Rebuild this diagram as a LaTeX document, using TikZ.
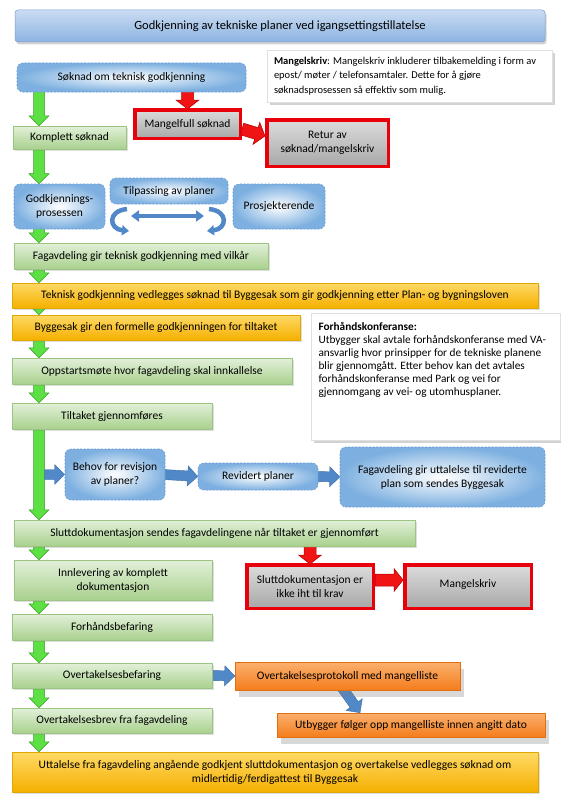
\documentclass[tikz,border=0pt]{standalone}
\usepackage{fontspec}
\setmainfont{Carlito}
\usetikzlibrary{calc,shadows,arrows.meta}
\definecolor{gTop}{HTML}{E2F0D9}
\definecolor{gBot}{HTML}{A9D18E}
\definecolor{gLine}{HTML}{9CC483}
\definecolor{gArr}{HTML}{5CE043}
\definecolor{gArrD}{HTML}{3C9E2C}
\definecolor{yTop}{HTML}{FFD966}
\definecolor{yBot}{HTML}{F5B000}
\definecolor{yLine}{HTML}{E0A800}
\definecolor{oTop}{HTML}{FBB06E}
\definecolor{oBot}{HTML}{F47D1C}
\definecolor{oLine}{HTML}{E07010}
\definecolor{rLine}{HTML}{E8000B}
\definecolor{rTop}{HTML}{DCDCDC}
\definecolor{rBot}{HTML}{A8A8A8}
\definecolor{rArr}{HTML}{F01414}
\definecolor{rArrD}{HTML}{B00000}
\definecolor{bOuter}{HTML}{7DB0E0}
\definecolor{bLine}{HTML}{6B9BD6}
\definecolor{bArr}{HTML}{5088C8}
\definecolor{bArrD}{HTML}{3A6AA5}
\definecolor{tTop}{HTML}{C9DCF2}
\definecolor{tBot}{HTML}{8DB3E2}
\definecolor{tLine}{HTML}{7A9FCF}
\pgfdeclarelayer{bg}
\pgfdeclarelayer{paper}
\pgfsetlayers{paper,bg,main}
\tikzset{
  blk/.style n args={3}{to path={
    let \p1=(\tikztostart), \p2=(\tikztotarget),
        \n1={atan2(\y2-\y1,\x2-\x1)}, \n2={veclen(\x2-\x1,\y2-\y1)} in
    ([shift={(\p1)},rotate=\n1]0,-#1) -- ([shift={(\p1)},rotate=\n1]\n2-#3,-#1)
    -- ([shift={(\p1)},rotate=\n1]\n2-#3,-#2) -- ([shift={(\p1)},rotate=\n1]\n2,0)
    -- ([shift={(\p1)},rotate=\n1]\n2-#3,#2) -- ([shift={(\p1)},rotate=\n1]\n2-#3,#1)
    -- ([shift={(\p1)},rotate=\n1]0,#1) -- cycle}},
  garrow/.style={blk={5.5}{10}{10}, fill=gArr, draw=gArrD, line width=0.5pt},
  rarrow/.style={blk={6}{11.5}{9}, fill=rArr, draw=rArrD, line width=0.5pt},
  barrow/.style={blk={5}{10}{10}, fill=bArr, draw=bArrD, line width=0.4pt},
  barc/.style={draw=bArr, line width=4.5pt, -{Triangle[width=10pt,length=7pt]}},
  base/.style={rectangle, align=center, inner sep=1pt, text=black,
    font=\fontsize{11.5}{14}\selectfont},
  gbox/.style={base, top color=gTop, bottom color=gBot, draw=gLine, line width=0.5pt,
    drop shadow={opacity=0.25, shadow xshift=1.5pt, shadow yshift=-2pt}},
  ybox/.style={base, top color=yTop, bottom color=yBot, draw=yLine, line width=0.5pt,
    drop shadow={opacity=0.25, shadow xshift=1.5pt, shadow yshift=-2pt}},
  obox/.style={base, top color=oTop, bottom color=oBot, draw=oLine, line width=0.5pt,
    drop shadow={opacity=0.3, shadow xshift=4pt, shadow yshift=-7pt}},
  rbox/.style={base, top color=rTop, bottom color=rBot, draw=rLine, line width=3.5pt,
    drop shadow={opacity=0.25, shadow xshift=1.5pt, shadow yshift=-2pt}},
  bbox/.style={base, rounded corners=6pt, inner color=white, outer color=bOuter,
    draw=bLine, line width=0.6pt, dash pattern=on 2pt off 1.5pt},
  tbox/.style={base, rounded corners=3pt, top color=tTop, bottom color=tBot, draw=tLine,
    line width=0.5pt, font=\fontsize{12.5}{14}\selectfont,
    drop shadow={opacity=0.35, shadow xshift=1.5pt, shadow yshift=-2.5pt}},
  notebox/.style={base, fill=white, draw=black!12, line width=0.4pt,
    drop shadow={opacity=0.35, shadow xshift=2.5pt, shadow yshift=-3pt}},
}
\begin{document}
\begin{tikzpicture}[x=1pt,y=1pt]
\begin{pgfonlayer}{paper}
\fill[white] (0,0) rectangle (561,-800);
\end{pgfonlayer}
\useasboundingbox (0,0) rectangle (561,-800);

\node[tbox, minimum width=530pt, minimum height=32pt] (title) at (280,-26)
  {Godkjenning av tekniske planer ved igangsettingstillatelse};

\node[notebox, minimum width=285pt, minimum height=52pt] (mnote) at (410,-76)
  {\parbox{272pt}{\raggedright\fontsize{10.5}{14.5}\selectfont
   \textbf{Mangelskriv}: Mangelskriv inkluderer tilbakemelding i form av\\
   epost/ møter / telefonsamtaler. Dette for å gjøre\\
   søknadsprosessen så effektiv som mulig.}};

\node[bbox, minimum width=229pt, minimum height=29pt] (soknad) at (131.5,-77.5)
  {Søknad om teknisk godkjenning};
\node[gbox, minimum width=113pt, minimum height=23pt] (komplett) at (69.5,-137.5)
  {Komplett søknad};
\node[rbox, minimum width=105.5pt, minimum height=28.5pt] (mangelfull) at (187.5,-124)
  {Mangelfull søknad};
\node[rbox, minimum width=121.5pt, minimum height=46.5pt] (retur) at (327.5,-143)
  {Retur av\\søknad/mangelskriv};

\node[bbox, minimum width=91pt, minimum height=45pt] (godkj) at (59.5,-206.5)
  {Godkjennings-\\prosessen};
\node[bbox, minimum width=118pt, minimum height=26pt] (tilpass) at (169,-191)
  {Tilpassing av planer};
\node[bbox, minimum width=92pt, minimum height=45pt] (prosj) at (279,-206.5)
  {Prosjekterende};

\node[gbox, minimum width=254pt, minimum height=26pt] (fagv) at (141,-256)
  {Fagavdeling gir teknisk godkjenning med vilkår};
\node[ybox, minimum width=526pt, minimum height=25pt] (teknisk) at (275,-295.5)
  {Teknisk godkjenning vedlegges søknad til Byggesak som gir godkjenning etter Plan- og bygningsloven};
\node[ybox, minimum width=288pt, minimum height=25pt] (bygges) at (156,-327.5)
  {Byggesak gir den formelle godkjenningen for tiltaket};
\node[gbox, minimum width=280pt, minimum height=26pt] (oppst) at (152,-371)
  {Oppstartsmøte hvor fagavdeling skal innkallelse};
\node[gbox, minimum width=200pt, minimum height=26pt] (tiltak) at (112,-416)
  {Tiltaket gjennomføres};

\node[notebox, minimum width=249pt, minimum height=127pt] (fnote) at (436,-376.5)
  {\parbox[c][117pt][t]{235pt}{\raggedright\fontsize{11.3}{13}\selectfont
   \vspace*{4pt}\textbf{Forhåndskonferanse:}\\
   Utbygger skal avtale forhåndskonferanse med VA-\\
   ansvarlig hvor prinsipper for de tekniske planene\\
   blir gjennomgått. Etter behov kan det avtales\\
   forhåndskonferanse med Park og vei for\\
   gjennomgang av vei- og utomhusplaner.}};

\node[bbox, minimum width=100pt, minimum height=51pt] (behov) at (115,-474.5)
  {Behov for revisjon\\av planer?};
\node[bbox, minimum width=120pt, minimum height=27pt] (revid) at (258,-476.5)
  {Revidert planer};
\node[bbox, minimum width=205pt, minimum height=60pt] (fagutt) at (442.5,-477)
  {Fagavdeling gir uttalelse til reviderte\\plan som sendes Byggesak};

\node[gbox, minimum width=401pt, minimum height=26pt] (slutt) at (214.5,-533)
  {Sluttdokumentasjon sendes fagavdelingene når tiltaket er gjennomført};
\node[gbox, minimum width=198pt, minimum height=40pt] (innlev) at (113,-580)
  {Innlevering av komplett\\dokumentasjon};
\node[rbox, minimum width=126.5pt, minimum height=43.5pt] (sluttkrav) at (310,-586.5)
  {Sluttdokumentasjon er\\ikke iht til krav};
\node[rbox, minimum width=126.5pt, minimum height=43.5pt] (mangel2) at (468,-586.5)
  {\raisebox{6pt}{Mangelskriv}};

\node[gbox, minimum width=200pt, minimum height=26pt] (forhb) at (112,-627)
  {Forhåndsbefaring};
\node[gbox, minimum width=200pt, minimum height=25pt] (overb) at (112,-675.5)
  {Overtakelsesbefaring};
\node[obox, minimum width=225pt, minimum height=28pt] (protok) at (347.5,-676)
  {Overtakelsesprotokoll med mangelliste};
\node[obox, minimum width=268pt, minimum height=24pt] (utbyg) at (411,-725)
  {Utbygger følger opp mangelliste innen angitt dato};
\node[gbox, minimum width=200pt, minimum height=25pt] (overbrev) at (112,-720.5)
  {Overtakelsesbrev fra fagavdeling};
\node[ybox, minimum width=526pt, minimum height=40pt] (uttal) at (275,-772)
  {Uttalelse fra fagavdeling angående godkjent sluttdokumentasjon og overtakelse vedlegges søknad om\\midlertidig/ferdigattest til Byggesak};

% helper coordinates
\coordinate (gx) at (39,0);
\coordinate (gxr) at (44.5,0);
\coordinate (ca1) at (127,-209); \coordinate (ca2) at (129,-231);
\coordinate (cb1) at (209,-209); \coordinate (cb2) at (207,-231);
\coordinate (da) at (131,-216);  \coordinate (db) at (204,-216);

\begin{pgfonlayer}{bg}
\path[garrow] ([yshift=3pt]soknad.south -| gx) to (komplett.north -| gx);
\path[garrow] ([yshift=3pt]komplett.south -| gx) to (godkj.north -| gx);
\path[garrow] ([yshift=3pt]godkj.south -| gx) to (fagv.north -| gx);
\path[garrow] ([yshift=3pt]fagv.south -| gx) to (teknisk.north -| gx);
\path[garrow] ([yshift=4pt]teknisk.south -| gx) to (bygges.north -| gx);
\path[garrow] ([yshift=3pt]bygges.south -| gx) to (oppst.north -| gx);
\path[garrow] ([yshift=3pt]oppst.south -| gx) to (tiltak.north -| gx);
\path[garrow] ([yshift=3pt]tiltak.south -| gx) to (slutt.north -| gx);
\path[garrow] ([yshift=3pt]slutt.south -| gx) to (innlev.north -| gx);
\path[garrow] ([yshift=3pt]innlev.south -| gx) to (forhb.north -| gx);
\path[garrow] ([yshift=3pt]forhb.south -| gx) to (overb.north -| gx);
\path[garrow] ([yshift=3pt]overb.south -| gx) to (overbrev.north -| gx);
\path[garrow] ([yshift=3pt]overbrev.south -| gx) to (uttal.north -| gx);

\path[barrow] (behov.west -| gxr) to (behov.west);
\path[barrow] ([xshift=-2pt]behov.east) to (revid.west);
\path[barrow] ([xshift=-2pt]revid.east) to (fagutt.west);
\path[barrow] ([xshift=-2pt]overb.east) to (protok.west);
\path[barrow] ([xshift=-5pt,yshift=2pt]protok.south) to ([xshift=-51pt]utbyg.north);

\path[rarrow] ([yshift=2pt]soknad.south -| mangelfull) to ([yshift=-1pt]mangelfull.north);
\path[rarrow] ([yshift=-5pt]mangelfull.east) to ([yshift=7pt]retur.west);
\path[rarrow] ([yshift=2pt]slutt.south -| sluttkrav) to ([yshift=-1pt]sluttkrav.north);
\path[rarrow] ([yshift=6.5pt]sluttkrav.east) to ([yshift=6.5pt]mangel2.west);
\end{pgfonlayer}

\draw[barc] (ca1) .. controls (107,-211) and (109,-229) .. (ca2);
\draw[barc] (cb1) .. controls (229,-211) and (227,-229) .. (cb2);
\draw[draw=bArr, line width=4.5pt, {Triangle[width=11pt,length=8pt]}-{Triangle[width=11pt,length=8pt]}] (da) -- (db);
\end{tikzpicture}
\end{document}
